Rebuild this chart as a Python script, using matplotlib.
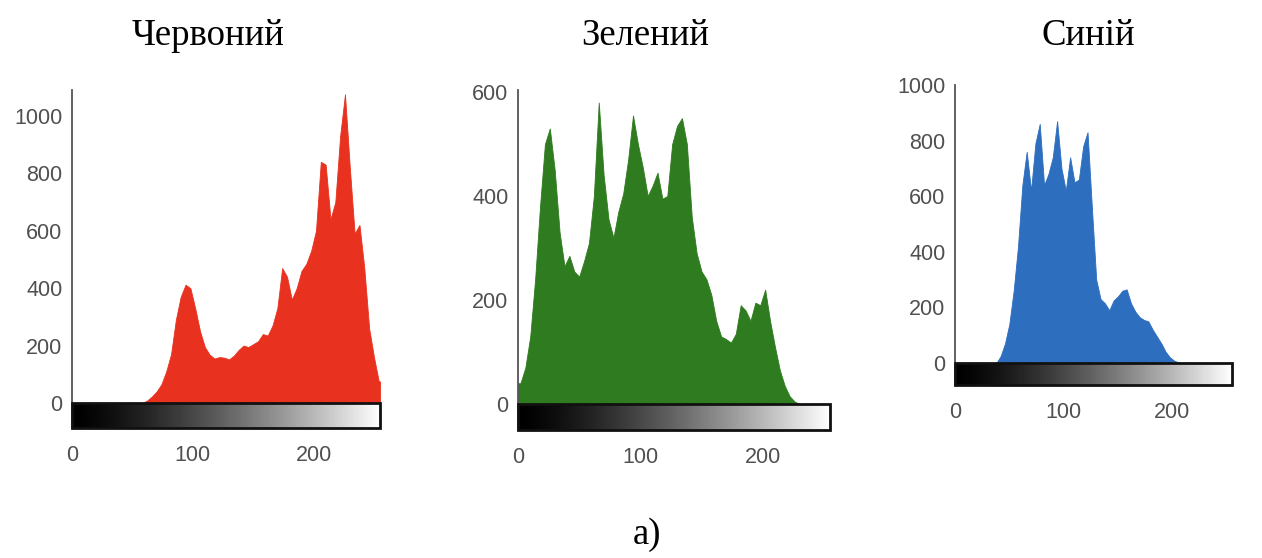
import numpy as np
import matplotlib
matplotlib.use("Agg")
import matplotlib.pyplot as plt
from matplotlib.patches import Rectangle

# histogram counts, 64 bins of width 4 over 0..255
red_counts = [0, 0, 0, 0, 0, 0, 0, 0, 0, 0, 0, 0, 0, 0, 0,
              8, 22, 40, 65, 110, 170, 290, 370, 412, 400, 330, 250, 195, 168,
              155, 160, 158, 152, 165, 185, 200, 195, 205, 215, 240, 235, 270,
              330, 470, 440, 360, 400, 460, 485, 530, 600, 840, 830, 640, 700,
              930, 1075, 820, 590, 620, 470, 260, 160, 75]
green_counts = [40, 70, 130, 240, 380, 500, 530, 450, 330, 265, 285, 255, 245,
                275, 310, 400, 580, 440, 355, 320, 370, 405, 470, 555, 500, 455,
                400, 420, 445, 395, 400, 500, 535, 550, 500, 360, 290, 255, 240,
                210, 160, 130, 125, 118, 135, 190, 180, 160, 195, 190, 220, 160,
                110, 65, 35, 15, 5, 0, 0, 0, 0, 0, 0, 0]
blue_counts = [0, 0, 0, 0, 0, 0, 0, 0, 0, 0,
               25, 70, 140, 260, 420, 640, 760, 620, 790, 860, 640, 680, 740,
               870, 700, 620, 740, 650, 660, 780, 830, 560, 300, 230, 215, 190,
               225, 240, 260, 265, 215, 185, 165, 155, 150, 120, 95, 70, 40, 20,
               8, 2, 0, 0, 0, 0, 0, 0, 0, 0, 0, 0, 0, 0]

titles = ["Червоний", "Зелений", "Синій"]
caption = "а)"
x_ticks = [0, 100, 200]
red_yticks = [0, 200, 400, 600, 800, 1000]
green_yticks = [0, 200, 400, 600]
blue_yticks = [0, 200, 400, 600, 800, 1000]

edges = np.arange(0, 257, 4)
centers = (edges[:-1] + edges[1:]) / 2
W, H = 1262, 558

fig = plt.figure(figsize=(W / 100, H / 100), dpi=100)


def panel(rect_px, counts, color, ylim, yticks):
    """rect_px = left, top, right, bottom in figure pixels"""
    l, t, r, b = rect_px
    ax = fig.add_axes([l / W, (H - b) / H, (r - l) / W, (b - t) / H])
    xs = np.concatenate([[0], centers, [255]])
    ys = np.concatenate([[counts[0]], counts, [counts[-1]]])
    ax.fill_between(xs, 0, ys, color=color, linewidth=0.6, edgecolor=color)
    grad = np.linspace(0, 1, 256)[None, :] ** 1.35
    ax.imshow(grad, cmap="gray", extent=[0, 255, ylim[0], 0],
              aspect="auto", interpolation="bilinear", zorder=2)
    ax.add_patch(Rectangle((0, ylim[0]), 255, -ylim[0], fill=False,
                           edgecolor="#111111", linewidth=2, zorder=3,
                           clip_on=False))
    ax.set_xlim(0, 255)
    ax.set_ylim(*ylim)
    ax.set_xticks(x_ticks)
    ax.set_yticks(yticks)
    for s in ["top", "right", "bottom"]:
        ax.spines[s].set_visible(False)
    ax.spines["left"].set_color("#555555")
    ax.spines["left"].set_linewidth(1.3)
    ax.tick_params(axis="both", length=0, labelsize=15.5, labelcolor="#505050")
    ax.tick_params(axis="y", pad=7)
    ax.tick_params(axis="x", pad=12)
    for lab in ax.get_xticklabels() + ax.get_yticklabels():
        lab.set_family("Liberation Sans")
    return ax


panel((72, 90, 380, 428), red_counts, "#E8321F", (-87, 1090), red_yticks)
panel((518, 90, 830, 430), green_counts, "#2F7B1F", (-50, 604), green_yticks)
panel((955, 85, 1232, 385), blue_counts, "#2D6EBE", (-79, 1000), blue_yticks)

title_x = [208, 645, 1088]
for tx, name in zip(title_x, titles):
    fig.text(tx / W, 1 - 36 / H, name, ha="center", va="center",
             family="Liberation Serif", fontsize=26.5)
fig.text(647 / W, 1 - 535 / H, caption, ha="center", va="center",
         family="Liberation Serif", fontsize=26.5)

fig.savefig("out.png", dpi=100)
